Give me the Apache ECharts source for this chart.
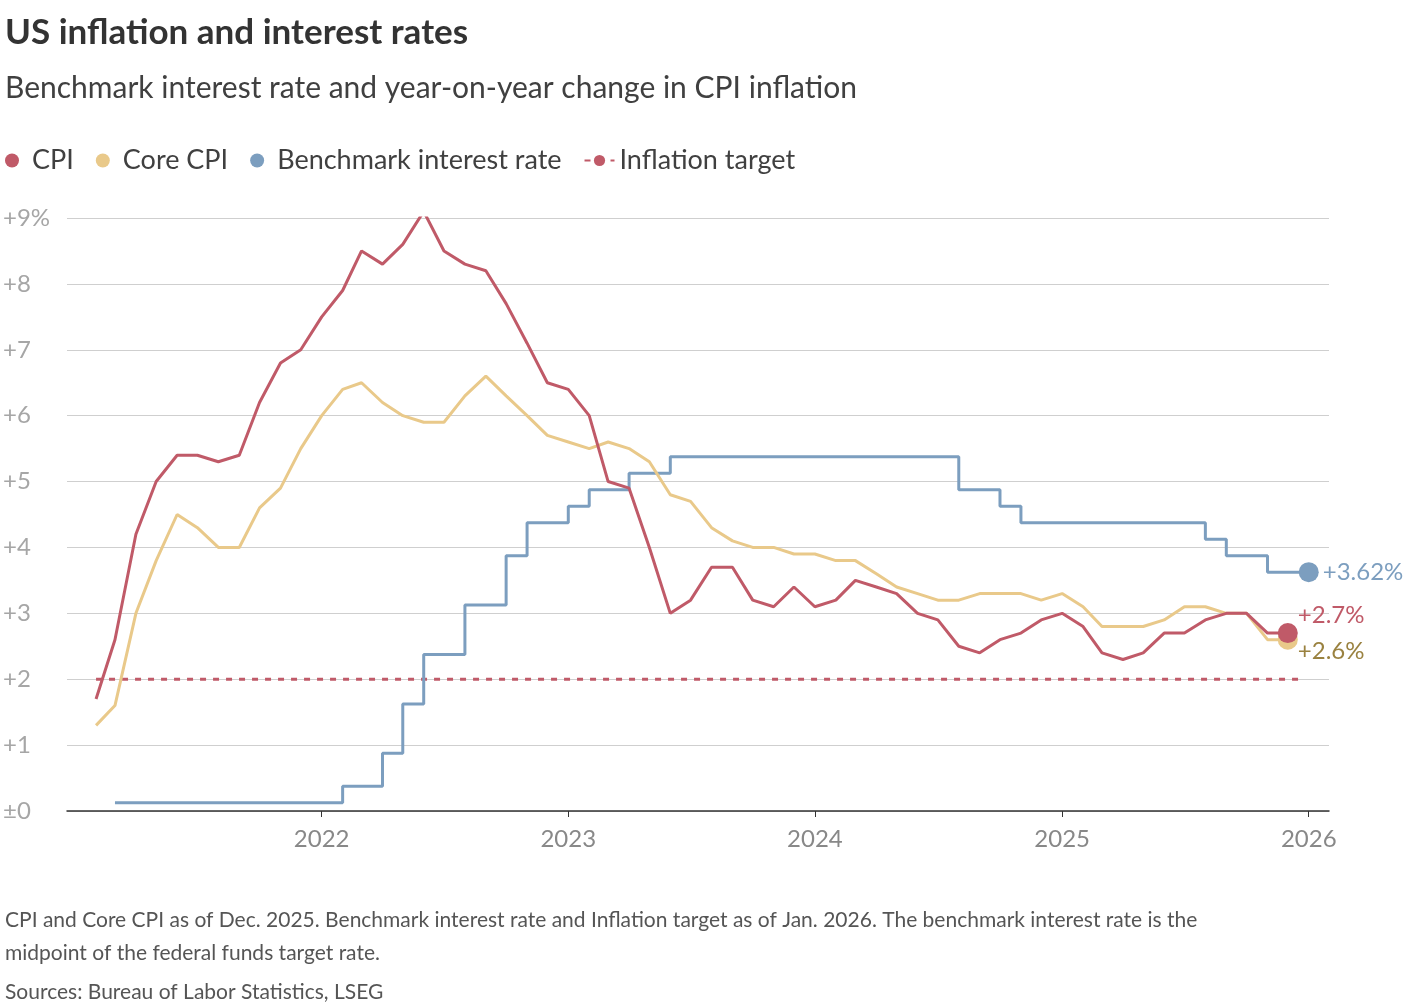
<!DOCTYPE html>
<html>
<head>
<meta charset="utf-8">
<script src="https://cdn.jsdelivr.net/npm/echarts@6/dist/echarts.min.js"></script>
<style>
  html, body { margin: 0; padding: 0; background: #fff; }
  #chart { width: 1420px; height: 1004px; }
</style>
</head>
<body>
<div id="chart"></div>
<script>
// monthly CPI readings, Feb 2021 - Dec 2025
var startMonth = [2021, 2];
var cpi = [1.7, 2.6, 4.2, 5.0, 5.4, 5.4, 5.3, 5.4, 6.2, 6.8, 7.0,
  7.5, 7.9, 8.5, 8.3, 8.6, 9.1, 8.5, 8.3, 8.2, 7.7, 7.1, 6.5,
  6.4, 6.0, 5.0, 4.9, 4.0, 3.0, 3.2, 3.7, 3.7, 3.2, 3.1, 3.4,
  3.1, 3.2, 3.5, 3.4, 3.3, 3.0, 2.9, 2.5, 2.4, 2.6, 2.7, 2.9,
  3.0, 2.8, 2.4, 2.3, 2.4, 2.7, 2.7, 2.9, 3.0, 3.0, 2.7, 2.7];
var coreCpi = [1.3, 1.6, 3.0, 3.8, 4.5, 4.3, 4.0, 4.0, 4.6, 4.9, 5.5,
  6.0, 6.4, 6.5, 6.2, 6.0, 5.9, 5.9, 6.3, 6.6, 6.3, 6.0, 5.7,
  5.6, 5.5, 5.6, 5.5, 5.3, 4.8, 4.7, 4.3, 4.1, 4.0, 4.0, 3.9,
  3.9, 3.8, 3.8, 3.6, 3.4, 3.3, 3.2, 3.2, 3.3, 3.3, 3.3, 3.2,
  3.3, 3.1, 2.8, 2.8, 2.8, 2.9, 3.1, 3.1, 3.0, 3.0, 2.6, 2.6];
// benchmark rate (midpoint) step changes
var rateDates = ['2021-03-01', '2022-02-01', '2022-04-01', '2022-05-01', '2022-06-01', '2022-08-01',
  '2022-10-01', '2022-11-01', '2023-01-01', '2023-02-01', '2023-04-01', '2023-06-01',
  '2024-08-01', '2024-10-01', '2024-11-01', '2025-08-01', '2025-09-01', '2025-11-01', '2026-01-01'];
var rateValues = [0.125, 0.375, 0.875, 1.625, 2.375, 3.125, 3.875, 4.375, 4.625, 4.875, 5.125, 5.375,
  4.875, 4.625, 4.375, 4.125, 3.875, 3.625, 3.625];
var targetDates = ['2021-02-01', '2025-12-25'];
var targetValues = [2, 2];
var yearTicks = ['2022-01-01', '2023-01-01', '2024-01-01', '2025-01-01', '2026-01-01'];

var red = '#c05a68', gold = '#e9c98a', blue = '#7c9ebf', grey = '#a6a6a6';
var font = 'Lato';
var t = function (s) { return Date.parse(s); };

function monthly(arr) {
  return arr.map(function (v, i) {
    var m = startMonth[1] - 1 + i;
    return [Date.UTC(startMonth[0] + Math.floor(m / 12), m % 12, 1), v];
  });
}
function lastBig(n) {
  return function (v, p) { return p.dataIndex === n - 1 ? 20 : 0; };
}

var chart = echarts.init(document.getElementById('chart'));
chart.setOption({
  animation: false,
  textStyle: { fontFamily: font },
  title: [
    { text: 'US inflation and interest rates', left: 0, top: 10,
      textStyle: { fontSize: 35, fontWeight: 'bold', color: '#333', fontFamily: font } },
    { text: 'Benchmark interest rate and year-on-year change in CPI inflation', left: 0, top: 68,
      textStyle: { fontSize: 30, fontWeight: 'normal', color: '#404040', fontFamily: font } },
    { text: 'CPI and Core CPI as of Dec. 2025. Benchmark interest rate and Inflation target as of Jan. 2026. The benchmark interest rate is the\nmidpoint of the federal funds target rate.',
      left: 0, top: 899, textStyle: { fontSize: 21, fontWeight: 'normal', color: '#555', lineHeight: 33, fontFamily: font } },
    { text: 'Sources: Bureau of Labor Statistics, LSEG', left: 0, top: 977,
      textStyle: { fontSize: 21, fontWeight: 'normal', color: '#555', fontFamily: font } }
  ],
  legend: {
    left: 0, top: 142, itemWidth: 30, itemHeight: 14, itemGap: 22,
    textStyle: { fontSize: 27, color: '#404040', fontFamily: font },
    data: [
      { name: 'CPI', icon: 'circle' },
      { name: 'Core CPI', icon: 'circle' },
      { name: 'Benchmark interest rate', icon: 'circle' },
      { name: 'Inflation target' }
    ]
  },
  grid: { left: 66, right: 91, top: 218, bottom: 193 },
  xAxis: {
    type: 'value', min: t('2020-12-20'), max: t('2026-01-31'),
    axisLine: { lineStyle: { color: '#333', width: 1.5 } },
    axisTick: { show: true, customValues: yearTicks.map(t), length: 6, lineStyle: { color: '#333' } },
    axisLabel: { customValues: yearTicks.map(t), formatter: function (v) { return new Date(v).getUTCFullYear(); },
      fontSize: 24, color: '#888', margin: 16 },
    splitLine: { show: false }
  },
  yAxis: {
    type: 'value', min: 0, max: 9, interval: 1,
    axisLine: { show: false }, axisTick: { show: false },
    axisLabel: { align: 'left', margin: 64, fontSize: 24, color: grey,
      formatter: function (v) { return v === 0 ? '±0' : (v === 9 ? '+9%' : '+' + v); } },
    splitLine: { lineStyle: { color: '#cfcfcf', width: 1.2 } }
  },
  series: [
    { name: 'Inflation target', type: 'line', z: 1, symbol: 'none',
      data: targetValues.map(function (v, i) { return [t(targetDates[i]), v]; }),
      itemStyle: { color: red }, lineStyle: { color: red, width: 3, type: [6, 7] } },
    { name: 'Benchmark interest rate', type: 'line', step: 'end',
      data: rateValues.map(function (v, i) { return [t(rateDates[i]), v]; }),
      symbol: 'circle', symbolSize: lastBig(rateValues.length), itemStyle: { color: blue },
      lineStyle: { color: blue, width: 3 },
      endLabel: { show: true, formatter: '+3.62%', color: blue, fontSize: 24, offset: [6, 0] } },
    { name: 'Core CPI', type: 'line', data: monthly(coreCpi), symbol: 'circle', symbolSize: lastBig(coreCpi.length),
      itemStyle: { color: gold }, lineStyle: { color: gold, width: 3 },
      endLabel: { show: true, formatter: '+2.6%', color: '#9a8240', fontSize: 24, offset: [2, 12] } },
    { name: 'CPI', type: 'line', data: monthly(cpi), symbol: 'circle', symbolSize: lastBig(cpi.length),
      itemStyle: { color: red }, lineStyle: { color: red, width: 3 },
      endLabel: { show: true, formatter: '+2.7%', color: red, fontSize: 24, offset: [2, -18] } }
  ]
});
</script>
</body>
</html>
